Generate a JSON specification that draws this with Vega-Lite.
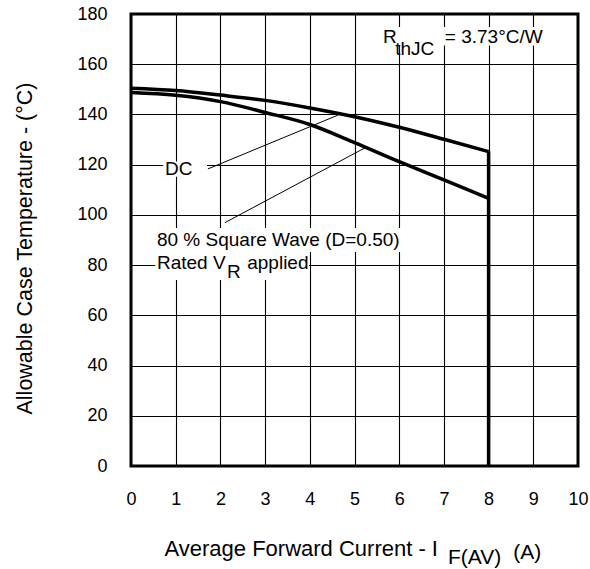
{
  "$schema": "https://vega.github.io/schema/vega-lite/v6.json",
  "width": 447,
  "height": 452,
  "autosize": {"type": "none"},
  "padding": {"left": 131, "top": 14, "right": 12, "bottom": 103},
  "background": "white",
  "config": {
    "view": {"stroke": "black", "strokeWidth": 3},
    "font": "Liberation Sans",
    "text": {"font": "Liberation Sans", "color": "black"}
  },
  "datasets": {
    "curves": [
      {"series": "DC", "x": 0, "y": 150.4},
      {"series": "DC", "x": 1, "y": 149.5},
      {"series": "DC", "x": 2, "y": 147.7},
      {"series": "DC", "x": 3, "y": 145.6},
      {"series": "DC", "x": 4, "y": 142.6},
      {"series": "DC", "x": 5, "y": 139.1},
      {"series": "DC", "x": 6, "y": 134.9},
      {"series": "DC", "x": 7, "y": 130.1},
      {"series": "DC", "x": 8, "y": 125.2},
      {"series": "SW", "x": 0, "y": 148.7},
      {"series": "SW", "x": 1, "y": 147.6},
      {"series": "SW", "x": 2, "y": 145.1},
      {"series": "SW", "x": 3, "y": 140.8},
      {"series": "SW", "x": 4, "y": 136.0},
      {"series": "SW", "x": 5, "y": 128.8},
      {"series": "SW", "x": 6, "y": 121.2},
      {"series": "SW", "x": 7, "y": 113.9},
      {"series": "SW", "x": 8, "y": 106.6}
    ],
    "drop": [
      {"x": 8, "y": 0, "y2": 125.2}
    ],
    "leaders": [
      {"x": 1.72, "y": 118.3, "x2": 4.64, "y2": 139.8},
      {"x": 2.1, "y": 96.9, "x2": 5.245, "y2": 126.8}
    ],
    "boxes": [
      {"x": 0.72, "x2": 1.7, "y": 115.2, "y2": 121.3},
      {"x": 0.54, "x2": 6.11, "y": 85.2, "y2": 94.8},
      {"x": 0.54, "x2": 3.98, "y": 74.1, "y2": 85.2},
      {"x": 5.59, "x2": 9.37, "y": 167.5, "y2": 174.8}
    ],
    "notes": [
      {"x": 0.76, "y": 118.3, "text": "DC"},
      {"x": 0.58, "y": 90, "text": "80 % Square Wave (D=0.50)"},
      {"x": 0.58, "y": 80.8, "text": "Rated V"},
      {"x": 2.15, "y": 77.4, "text": "R"},
      {"x": 2.6, "y": 80.8, "text": "applied"},
      {"x": 5.64, "y": 171, "text": "R"},
      {"x": 5.91, "y": 166, "text": "thJC"},
      {"x": 7.02, "y": 171, "text": "= 3.73°C/W"}
    ],
    "subs": [
      {"x": 7.09, "y": -36.6, "text": "F(AV)"},
      {"x": 8.55, "y": -34.6, "text": "(A)"}
    ]
  },
  "encoding": {
    "x": {
      "field": "x",
      "type": "quantitative",
      "scale": {"domain": [0, 10], "nice": false, "zero": false},
      "axis": {
        "values": [0, 1, 2, 3, 4, 5, 6, 7, 8, 9, 10],
        "grid": true,
        "gridColor": "black",
        "gridWidth": 1.1,
        "gridOpacity": 1,
        "domain": false,
        "ticks": false,
        "labelPadding": 24,
        "labelFontSize": 18,
        "labelFont": "Liberation Sans",
        "labelColor": "black",
        "labelFlush": false,
        "labelOverlap": false,
        "title": "Average Forward Current - I",
        "titleFont": "Liberation Sans",
        "titleFontSize": 22,
        "titleFontWeight": "normal",
        "titleColor": "black",
        "titleAlign": "left",
        "titleBaseline": "middle",
        "titleX": 33,
        "titleY": 82
      }
    },
    "y": {
      "field": "y",
      "type": "quantitative",
      "scale": {"domain": [0, 180], "nice": false, "zero": false},
      "axis": {
        "values": [0, 20, 40, 60, 80, 100, 120, 140, 160, 180],
        "grid": true,
        "gridColor": "black",
        "gridWidth": 1.1,
        "gridOpacity": 1,
        "domain": false,
        "ticks": false,
        "labelPadding": 24,
        "labelFontSize": 18,
        "labelFont": "Liberation Sans",
        "labelColor": "black",
        "labelOverlap": false,
        "title": "Allowable Case Temperature - (°C)",
        "titleFont": "Liberation Sans",
        "titleFontSize": 21.5,
        "titleFontWeight": "normal",
        "titleColor": "black",
        "titleAngle": 270,
        "titleAlign": "center",
        "titleBaseline": "middle",
        "titleX": -106,
        "titleY": 234
      }
    }
  },
  "layer": [
    {
      "data": {"name": "boxes"},
      "mark": {"type": "rect", "fill": "white", "stroke": null},
      "encoding": {
        "x2": {"field": "x2"},
        "y2": {"field": "y2"}
      }
    },
    {
      "data": {"name": "leaders"},
      "mark": {"type": "rule", "color": "black", "strokeWidth": 1},
      "encoding": {
        "x2": {"field": "x2"},
        "y2": {"field": "y2"}
      }
    },
    {
      "data": {"name": "curves"},
      "mark": {"type": "line", "color": "black", "strokeWidth": 3.5, "interpolate": "monotone"},
      "encoding": {
        "detail": {"field": "series"},
        "order": {"field": "x"}
      }
    },
    {
      "data": {"name": "drop"},
      "mark": {"type": "rule", "color": "black", "strokeWidth": 3.5},
      "encoding": {
        "y2": {"field": "y2"}
      }
    },
    {
      "data": {"name": "notes"},
      "mark": {"type": "text", "align": "left", "baseline": "middle", "fontSize": 19, "font": "Liberation Sans", "color": "black"},
      "encoding": {
        "text": {"field": "text"}
      }
    },
    {
      "data": {"name": "subs"},
      "mark": {"type": "text", "align": "left", "baseline": "middle", "fontSize": 21, "font": "Liberation Sans", "color": "black"},
      "encoding": {
        "text": {"field": "text"}
      }
    }
  ]
}
